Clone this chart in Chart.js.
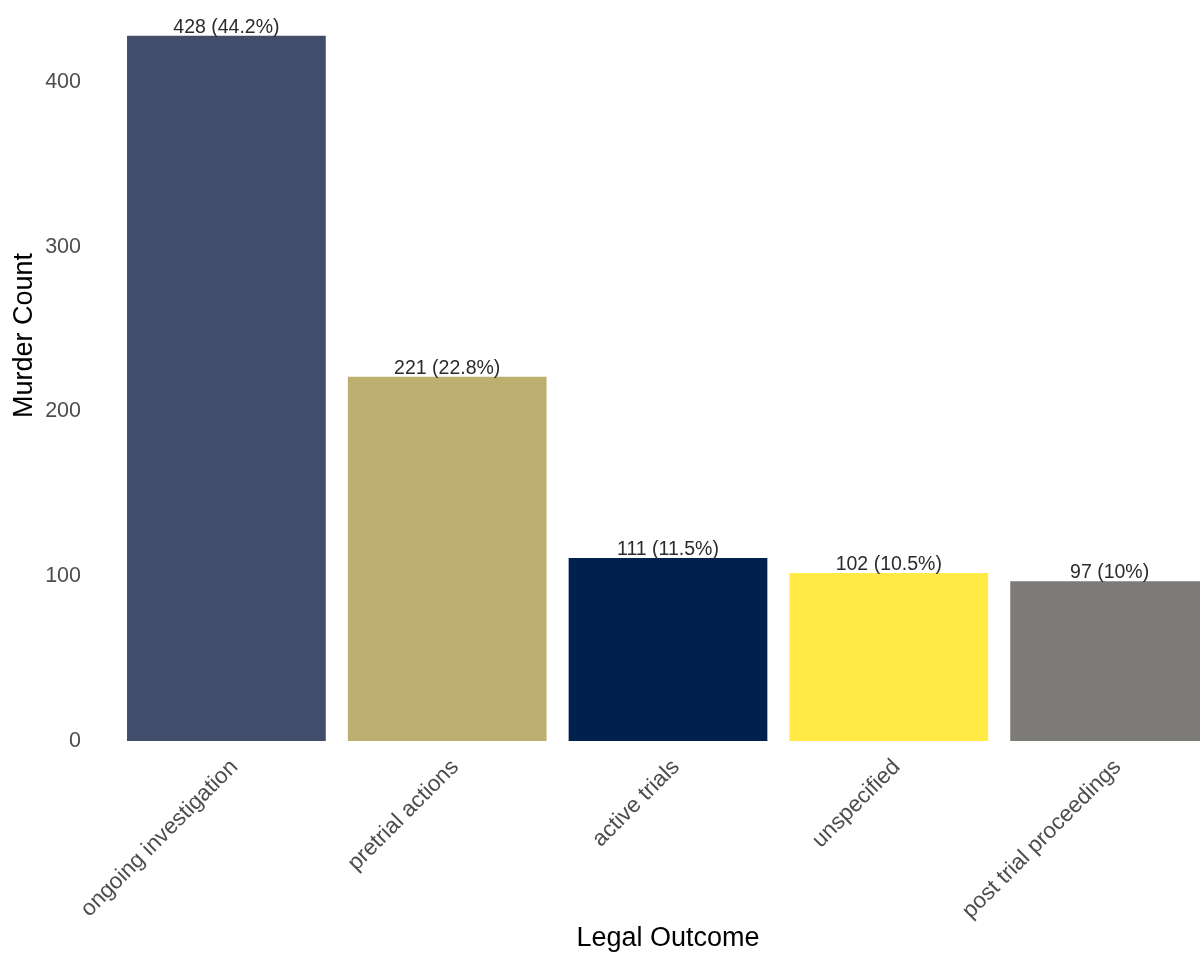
<!DOCTYPE html>
<html>
<head>
<meta charset="utf-8">
<title>Legal Outcome</title>
<script src="https://cdn.jsdelivr.net/npm/chart.js@4/dist/chart.umd.min.js"></script>
<style>
  html, body { margin: 0; padding: 0; background: #ffffff; }
  #frame { position: relative; width: 1200px; height: 955px; overflow: hidden; }
  /* panel runs a little past the top and right edges */
  #wrap { position: absolute; left: 0; top: -70px; width: 1220px; height: 1025px; }
</style>
</head>
<body>
<div id="frame">
  <div id="wrap"><canvas id="outcomeChart" width="1220" height="1025"></canvas></div>
</div>
<script>
// Kategórie a počty
const outcomes = ['ongoing investigation', 'pretrial actions', 'active trials', 'unspecified', 'post trial proceedings'];
const counts = [428, 221, 111, 102, 97];
const shares = ['44.2%', '22.8%', '11.5%', '10.5%', '10%'];
const barColors = ['#414D6B', '#BCAF6F', '#00204D', '#FFEA46', '#7C7B78'];
const yTicks = [0, 100, 200, 300, 400];

const FONT = "'Liberation Sans', Arial, sans-serif";

// Popisky nad stĺpcami
const valueLabels = {
    id: 'valueLabels',
    afterDatasetsDraw(chart) {
        const ctx = chart.ctx;
        const meta = chart.getDatasetMeta(0);
        ctx.save();
        ctx.font = '19.5px ' + FONT;
        ctx.fillStyle = '#2b2b2b';
        ctx.textAlign = 'center';
        ctx.textBaseline = 'alphabetic';
        meta.data.forEach((bar, i) => {
            ctx.fillText(counts[i] + ' (' + shares[i] + ')', bar.x, bar.y - 3);
        });
        ctx.restore();
    }
};

const ctx = document.getElementById('outcomeChart').getContext('2d');
new Chart(ctx, {
    type: 'bar',
    data: {
        labels: outcomes,
        datasets: [{
            data: counts,
            backgroundColor: barColors,
            borderWidth: 0,
            barPercentage: 0.9,
            categoryPercentage: 1.0
        }]
    },
    options: {
        responsive: false,
        animation: false,
        devicePixelRatio: 1,
        layout: { padding: 0 },
        plugins: {
            legend: { display: false },
            tooltip: { enabled: false }
        },
        scales: {
            x: {
                grid: { display: false, drawTicks: false },
                border: { display: false },
                ticks: {
                    color: '#4d4d4d',
                    font: { size: 22.5, family: FONT },
                    minRotation: 45,
                    maxRotation: 45,
                    padding: 13,
                    labelOffset: 8,
                    autoSkip: false
                },
                title: {
                    display: true,
                    text: 'Legal Outcome',
                    color: '#000000',
                    font: { size: 27, family: FONT },
                    padding: { top: 0, bottom: 0 }
                },
                afterFit(scale) {
                    scale.height = 214;
                    scale.paddingLeft = 0;
                    scale.paddingRight = 0;
                }
            },
            y: {
                min: 0,
                max: 492.2,
                grid: { display: false, drawTicks: false },
                border: { display: false },
                ticks: {
                    stepSize: 100,
                    color: '#4d4d4d',
                    font: { size: 21.5, family: FONT },
                    padding: 35
                },
                title: {
                    display: true,
                    text: 'Murder Count',
                    color: '#000000',
                    font: { size: 27, family: FONT },
                    padding: { top: 8, bottom: 0 }
                },
                afterBuildTicks(scale) {
                    scale.ticks = yTicks.map(v => ({ value: v }));
                },
                afterFit(scale) {
                    scale.width = 116;
                    scale.paddingTop = 0;
                    scale.paddingBottom = 0;
                }
            }
        }
    },
    plugins: [valueLabels]
});
</script>
</body>
</html>
